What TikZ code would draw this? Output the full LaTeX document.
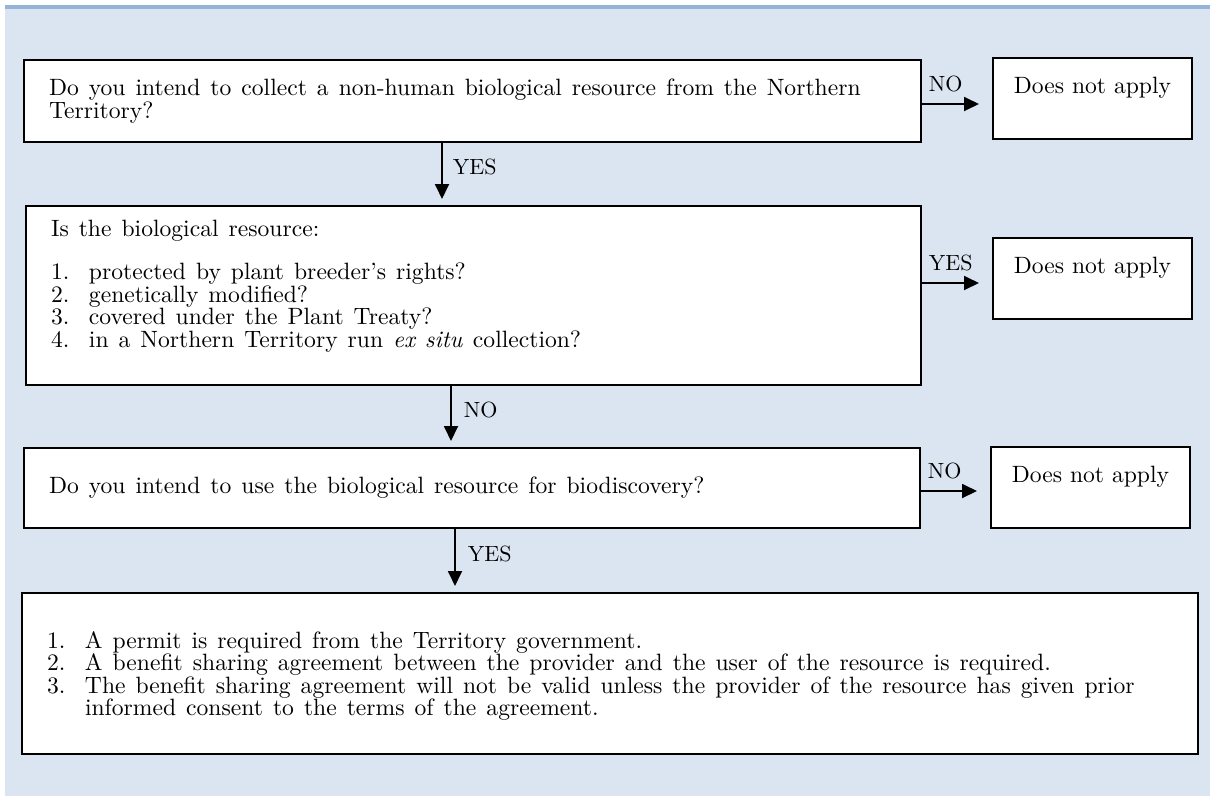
\documentclass[tikz,border=0pt]{standalone}
\usepackage{fontspec}
\setmainfont{lmroman10-regular.otf}[ItalicFont=lmroman10-italic.otf]
\usetikzlibrary{arrows.meta}

\definecolor{panelblue}{HTML}{DBE5F1}
\definecolor{ruleblue}{HTML}{95B3D7}

\newcommand{\bodyfont}{\fontsize{23.6}{22.5}\selectfont\lineskiplimit=-20pt\relax}
\newcommand{\itemno}[1]{\makebox[38pt][l]{#1}}

\tikzset{
  qbox/.style={draw, line width=2pt, fill=white, anchor=north west, align=left,
    inner xsep=25pt, inner ysep=0pt, font=\bodyfont,
    execute at begin node={\spaceskip=10pt\relax}},
  nbox/.style={draw, line width=2pt, fill=white, anchor=north west, inner sep=0pt,
    minimum width=199pt, text height=35pt, text depth=46pt, font=\bodyfont},
  arr/.style={line width=1.8pt, -{Triangle[length=15pt,width=14pt]}},
  lab/.style={font=\fontsize{22}{22}\selectfont, inner sep=0pt}
}

\begin{document}
\begin{tikzpicture}[x=1pt,y=-1pt]

        \useasboundingbox (0,0) rectangle (1210,796);

        % panel
        \fill[panelblue] (5,9) rectangle (1210,796);
        \fill[ruleblue] (5,5) rectangle (1210,9);

        % question boxes
        \node[qbox, text width=847pt, minimum height=82pt] (q1) at (23,59)
          {Do you intend to collect a non-human biological resource from the Northern\\Territory?};
        \node[qbox, text width=845pt, minimum height=179pt] (q2) at (25,205)
          {Is the biological resource:\\[20.5pt]
           \itemno{1.}protected by plant breeder’s rights?\\
           \itemno{2.}genetically modified?\\
           \itemno{3.}covered under the Plant Treaty?\\
           \itemno{4.}in a Northern Territory run \textit{ex situ} collection?\\[1pt]\mbox{}};
        \node[qbox, text width=846pt, minimum height=80pt] (q3) at (23,447)
          {Do you intend to use the biological resource for biodiscovery?};
        \node[qbox, text width=1126pt, minimum height=161pt] (q4) at (21,592)
          {\rule{0pt}{22pt}\itemno{1.}A permit is required from the Territory government.\\
           \itemno{2.}A benefit sharing agreement between the provider and the user of the resource is required.\\
           \itemno{3.}The benefit sharing agreement will not be valid unless the provider of the resource has given prior\\
           \hspace*{38pt}informed consent to the terms of the agreement.};

        % does not apply
        \node[nbox] (n1) at (992,57) {Does not apply};
        \node[nbox] (n2) at (992,237) {Does not apply};
        \node[nbox] (n3) at (990,446) {Does not apply};

        % arrow columns and rows
        \coordinate (c1) at (442,0);
        \coordinate (c2) at (451,0);
        \coordinate (c3) at (455,0);
        \coordinate (r1) at (0,104);
        \coordinate (r2) at (0,283);
        \coordinate (r3) at (0,491);

        % down arrows
        \draw[arr, shorten >=6pt] (q1.south -| c1) -- (q2.north -| c1) node[lab, pos=0.39, right=10pt] {YES};
        \draw[arr, shorten >=6pt] (q2.south -| c2) -- (q3.north -| c2) node[lab, pos=0.4, right=12pt] {NO};
        \draw[arr, shorten >=6pt] (q3.south -| c3) -- (q4.north -| c3) node[lab, pos=0.4, right=12pt] {YES};

        % side arrows
        \draw[arr, shorten >=13pt] (q1.east |- r1) -- (n1.west |- r1) node[lab, pos=0, anchor=base west, xshift=6pt, yshift=13pt] {NO};
        \draw[arr, shorten >=13pt] (q2.east |- r2) -- (n2.west |- r2) node[lab, pos=0, anchor=base west, xshift=6pt, yshift=13pt] {YES};
        \draw[arr, shorten >=13pt] (q3.east |- r3) -- (n3.west |- r3) node[lab, pos=0, anchor=base west, xshift=6pt, yshift=13pt] {NO};

    \end{tikzpicture}
\end{document}
